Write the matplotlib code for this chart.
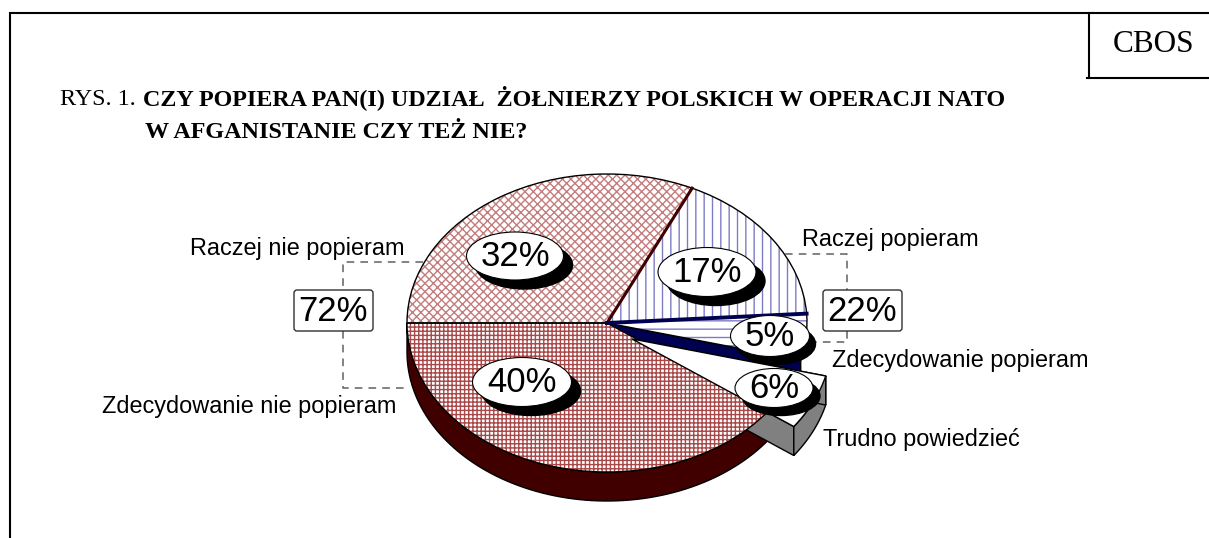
import numpy as np
import matplotlib
matplotlib.use('Agg')
import matplotlib.pyplot as plt
from matplotlib.patches import Wedge, Ellipse, FancyBboxPatch

W, H = 1209, 538

# dane z rysunku, kolejnosc zgodnie z ruchem wskazowek od lewej
categories = ['Raczej nie popieram', 'Raczej popieram', 'Zdecydowanie popieram',
              'Trudno powiedzieć', 'Zdecydowanie nie popieram']
values = [32, 17, 5, 6, 40]
pct_labels = ['32%', '17%', '5%', '6%', '40%']
group_labels = ['72%', '22%']

title_prefix = 'RYS. 1.'
title_line1 = 'CZY POPIERA PAN(I) UDZIAŁ  ŻOŁNIERZY POLSKICH W OPERACJI NATO'
title_line2 = 'W AFGANISTANIE CZY TEŻ NIE?'

# wyglad wycinkow
hatches = ['xxxx', '||', '--', None, '++++']
hatch_colors = ['#c47c7c', '#7c7cc4', '#7c7cc4', 'white', '#a84848']
DARK_RED = '#400000'
NAVY = '#000050'
GREY = '#808080'

# geometria w pikselach
cx, cy, rx, ry = 607, 323, 200, 149
depth = 29 / ry
exp_x, exp_y = 0.125, -0.107

plt.rcParams['font.family'] = ['Liberation Sans']
plt.rcParams['hatch.linewidth'] = 1.0

fig = plt.figure(figsize=(W / 100, H / 100), dpi=100)

# os w pikselach na ramke i teksty
ax = fig.add_axes([0, 0, 1, 1], zorder=1)
ax.set_xlim(0, W)
ax.set_ylim(H, 0)
ax.axis('off')
ax.patch.set_alpha(0)

# os kolowa: okrag jednostkowy daje elipse na rysunku
pie_ax = fig.add_axes([(cx - rx) / W, 1 - (cy + ry) / H, 2 * rx / W, 2 * ry / H], zorder=0)
wedges, _ = pie_ax.pie(values, startangle=180, counterclock=False, radius=1,
                       wedgeprops={'linewidth': 0, 'zorder': 5})
pie_ax.set_aspect('auto')
pie_ax.set_xlim(-1, 1)
pie_ax.set_ylim(-1, 1)
pie_ax.axis('off')

for w, h, c in zip(wedges, hatches, hatch_colors):
    w.set_facecolor('white')
    w.set_edgecolor(c)
    w.set_hatch(h)
    w.set_clip_on(False)


def arc(t1, t2, x0=0.0, y0=0.0):
    t = np.radians(np.linspace(t1, t2, 80))
    return x0 + np.cos(t), y0 + np.sin(t)


def wall_arc(t1, t2, color, x0=0.0, y0=0.0, z=2):
    x, y = arc(t1, t2, x0, y0)
    pie_ax.fill(np.r_[x, x[::-1]], np.r_[y, y[::-1] - depth], facecolor=color,
                edgecolor='black', linewidth=1, zorder=z, clip_on=False)


def wall_edge(t, color, x0=0.0, y0=0.0, z=2):
    x, y = np.cos(np.radians(t)), np.sin(np.radians(t))
    pie_ax.fill([x0, x0 + x, x0 + x, x0], [y0, y0 + y, y0 + y - depth, y0 - depth],
                facecolor=color, edgecolor='black', linewidth=1, zorder=z, clip_on=False)


big = wedges[4]
trudno = wedges[3]
trudno.set_center((exp_x, exp_y))

# sciany boczne
wall_arc(big.theta1, big.theta2, DARK_RED)
wall_edge(wedges[2].theta1, NAVY, z=2)
wall_edge(trudno.theta1, GREY, exp_x, exp_y, z=3)
wall_arc(trudno.theta1, trudno.theta2, GREY, exp_x, exp_y, z=3)
wall_edge(trudno.theta2, GREY, exp_x, exp_y, z=3)
trudno.set_zorder(7)

# kontury
for i, w in enumerate(wedges):
    pie_ax.add_patch(Wedge(w.center, 1, w.theta1, w.theta2, fill=False, edgecolor='black',
                           linewidth=1, zorder=8 if i == 3 else 6, clip_on=False))

# grube linie miedzy wycinkami
a = np.radians(wedges[0].theta1)
pie_ax.plot([0, np.cos(a)], [0, np.sin(a)], color=DARK_RED, lw=2.2, zorder=6, clip_on=False)
a = np.radians(wedges[1].theta1)
pie_ax.plot([0, np.cos(a)], [0, np.sin(a)], color=NAVY, lw=2.8, zorder=6, clip_on=False)

# etykiety w elipsach z cieniem
label_x = [515, 707, 770, 774, 522]
label_y = [256, 272, 336, 388, 382]
label_w = [97, 98, 79, 78, 99]
label_h = [48, 49, 41, 39, 49]
shadow_x = [9, 9, 6, 7, 9]
shadow_y = [9, 9, 8, 8, 9]
for t, x, y, ew, eh, sx, sy in zip(pct_labels, label_x, label_y, label_w, label_h, shadow_x, shadow_y):
    ax.add_patch(Ellipse((x + sx, y + sy), ew, eh, facecolor='black', edgecolor='black', zorder=3))
    ax.add_patch(Ellipse((x, y), ew, eh, facecolor='white', edgecolor='black', linewidth=0.8, zorder=4))
    ax.text(x, y + 1, t, ha='center', va='center', fontsize=25, color='black', zorder=5)

# ramka
ax.plot([10, 10, W], [H, 13, 13], color='black', lw=1.5, solid_joinstyle='miter')
ax.plot([1089, 1089], [13, 78], color='black', lw=1.5)
ax.plot([1087, W], [78, 78], color='black', lw=1.5)
ax.text(1154, 44, 'CBOS', family='Liberation Serif', fontsize=22.5, ha='center', va='center')

# tytul
ax.text(60, 105, title_prefix, family='Liberation Serif', fontsize=17.4, va='baseline')
ax.text(143, 105, title_line1, family='Liberation Serif', fontweight='bold', fontsize=17.4, va='baseline')
ax.text(145, 138, title_line2, family='Liberation Serif', fontweight='bold', fontsize=17.4, va='baseline')

# przerywane klamry
dash = {'color': '#606060', 'lw': 1.1, 'ls': (0, (5, 4)), 'zorder': 0.5}
ax.plot([423, 343, 343], [262, 262, 290], **dash)
ax.plot([343, 343, 409], [331, 388, 388], **dash)
ax.plot([785, 847, 847], [254, 254, 290], **dash)
ax.plot([847, 847, 816], [331, 342, 342], **dash)

# pola z suma grup
for t, x0, x1, y0, y1 in [(group_labels[0], 294, 373, 290, 331), (group_labels[1], 823, 902, 290, 331)]:
    ax.add_patch(FancyBboxPatch((x0, y0), x1 - x0, y1 - y0, boxstyle='round,pad=0,rounding_size=3',
                                facecolor='white', edgecolor='#303030', linewidth=1, zorder=4))
    ax.text((x0 + x1) / 2, (y0 + y1) / 2 + 1, t, ha='center', va='center', fontsize=25, zorder=5)

# opisy kategorii
cat_x = [190, 802, 832, 823, 102]
cat_y = [255, 246, 367, 446, 413]
for t, x, y in zip(categories, cat_x, cat_y):
    ax.text(x, y, t, ha='left', va='baseline', fontsize=16.9, color='black')

fig.savefig('out.png', dpi=100)
